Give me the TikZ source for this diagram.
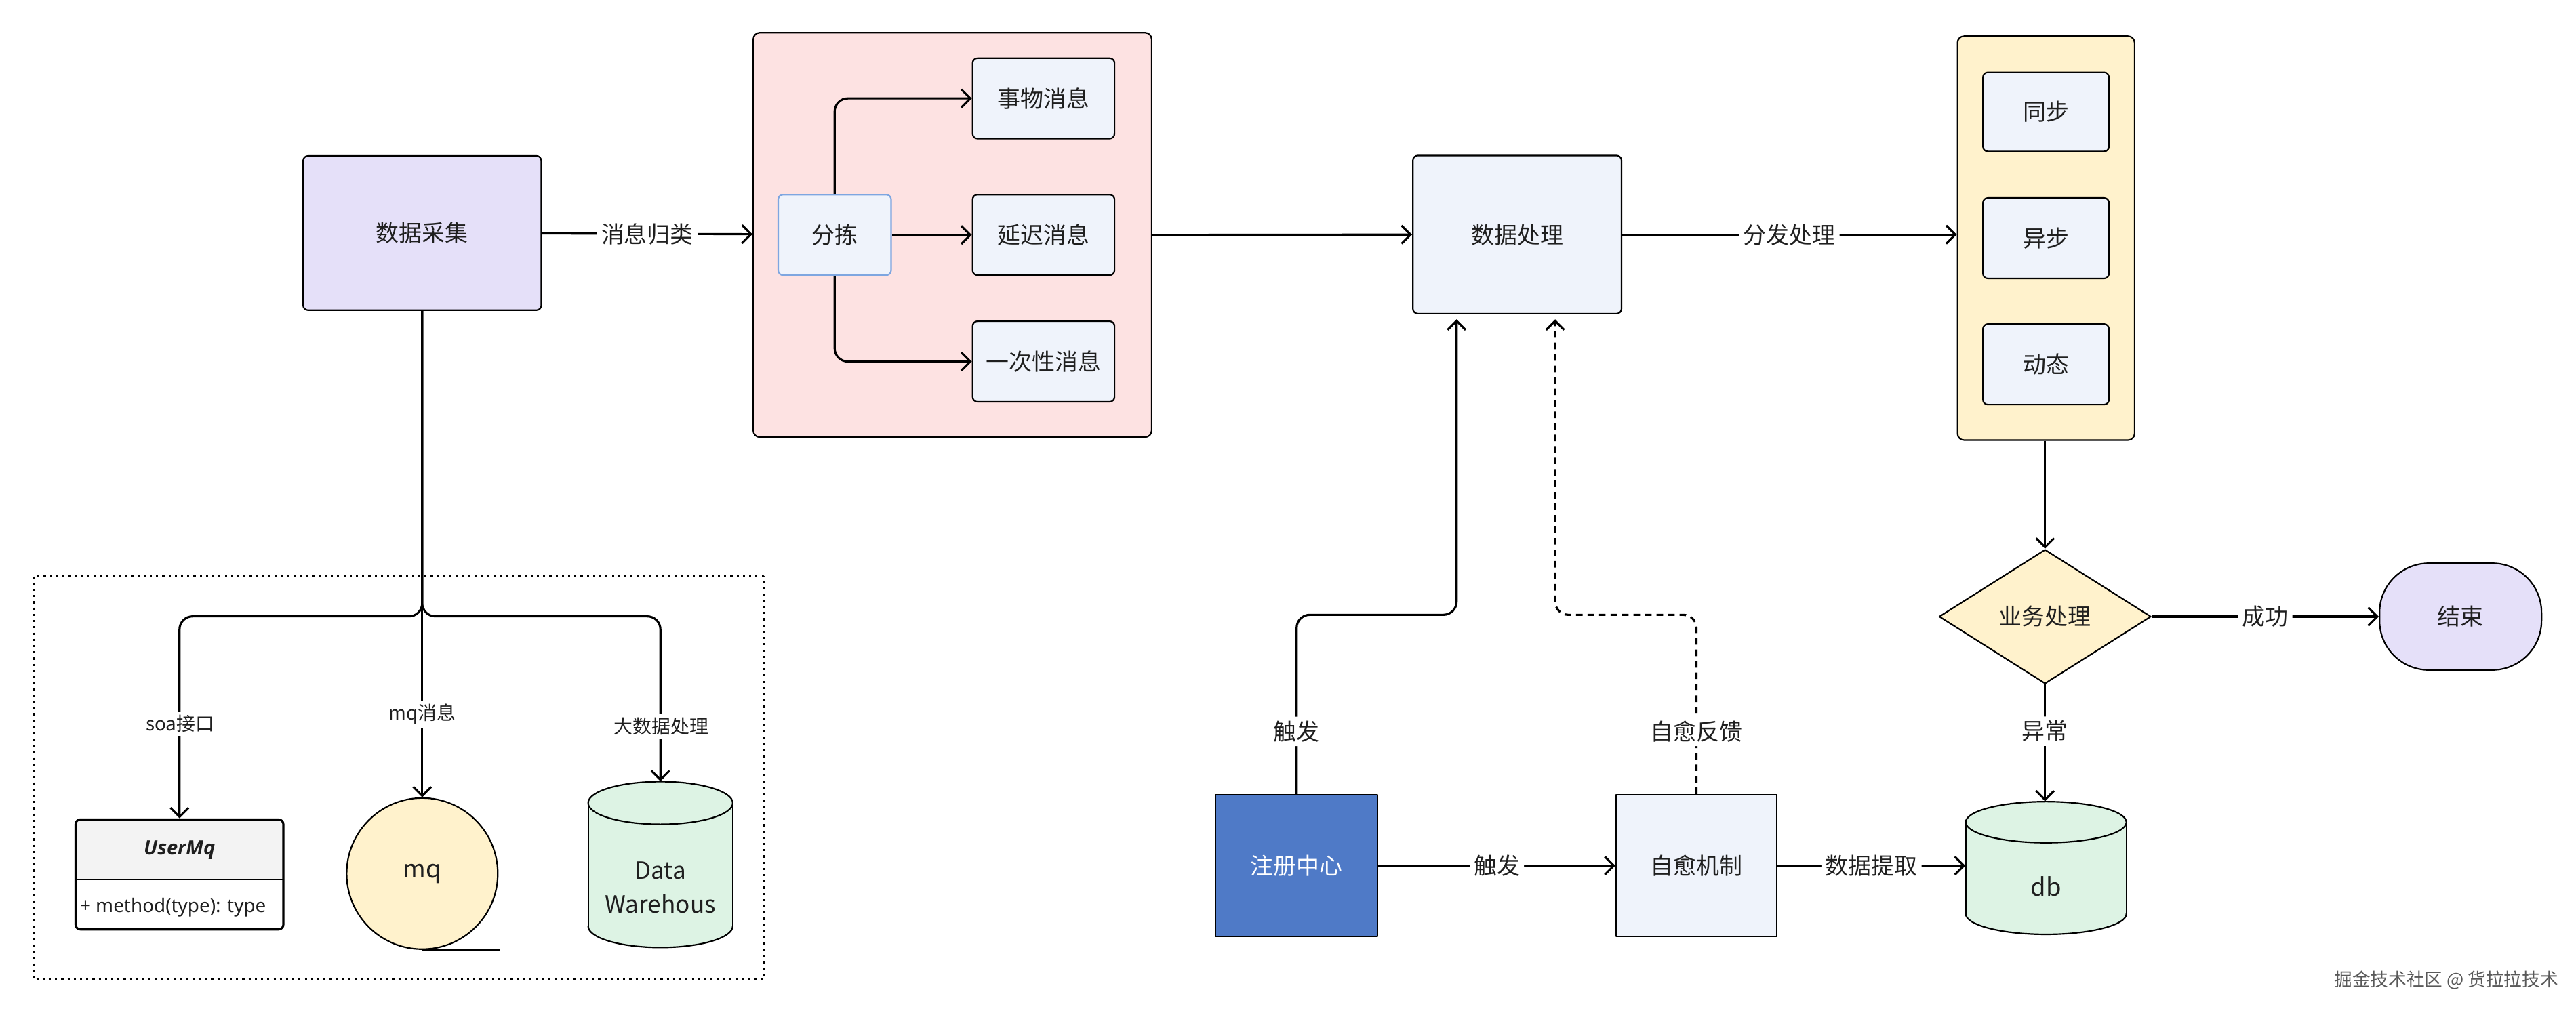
\documentclass[tikz,border=0pt]{standalone}
\usepackage{fontspec}
\setmainfont{Noto Sans CJK SC}
\newfontfamily\latinf{Noto Sans}
\newfontfamily\umfont{Open Sans}
\usetikzlibrary{arrows.meta,shapes.geometric}
\definecolor{lav}{HTML}{E5E0F9}
\definecolor{pinkc}{HTML}{FDE2E2}
\definecolor{bgb}{HTML}{EFF3FB}
\definecolor{fjb}{HTML}{7EA6E0}
\definecolor{yel}{HTML}{FFF2CC}
\definecolor{grn}{HTML}{DDF3E4}
\definecolor{regb}{HTML}{4F7AC7}
\definecolor{hdr}{HTML}{F3F3F3}
\definecolor{txt}{HTML}{1F1F1F}
\newcommand\fsz[1]{\fontsize{#1}{#1}\selectfont}
\begin{document}
\begin{tikzpicture}[x=1pt,y=-1pt,
  line join=round,
  box/.style={draw=black, line width=0.9pt, rounded corners=3pt, fill=bgb, inner sep=0pt, font=\fsz{14}, text=txt},
  sqbox/.style={draw=black, line width=0.9pt, inner sep=0pt, font=\fsz{14}},
  conn/.style={line width=1.3pt, -{Straight Barb[length=5.5pt,width=11pt]}, rounded corners=8pt},
  lbl/.style={fill=white, inner sep=2.5pt, font=\fsz{14}, text=txt},
  slbl/.style={fill=white, inner sep=2pt, font=\fsz{11.5}, text=txt},
  cyl/.style={line width=0.9pt}
]
\fill[white] (0,0) rectangle (1568,618.1);
\useasboundingbox (0,0) rectangle (1568,618.1);

% ---------- left part ----------
\node[box, fill=lav, minimum width=145pt, minimum height=94pt] (caiji) at (257,141.9) {数据采集};

\node[draw=black, line width=0.9pt, rounded corners=4pt, fill=pinkc, minimum width=242.5pt, minimum height=246.3pt] (grp1) at (579.75,143.05) {};
\node[box, draw=fjb, minimum width=68.7pt, minimum height=49.1pt] (fj) at (508.05,143.05) {分拣};
\node[box, minimum width=86.4pt, minimum height=49pt] (swxx) at (635.2,59.9) {事物消息};
\node[box, minimum width=86.4pt, minimum height=49.1pt] (ycxx) at (635.2,143.05) {延迟消息};
\node[box, minimum width=86.4pt, minimum height=49.1pt] (yccx) at (635.2,220.15) {一次性消息};

\draw[conn] (caiji) -- node[lbl] (lgl) {消息归类} (grp1);
\draw[conn] (fj.north) |- (swxx.west);
\draw[conn] (fj) -- (ycxx);
\draw[conn] (fj.south) |- (yccx.west);

% dotted group
\draw[line width=1.2pt, dash pattern=on 1.3pt off 2.5pt] (20.5,351) rectangle (464.7,596.4);

% UserMq class
\begin{scope}
  \clip[rounded corners=3pt] (46,499) rectangle (172.5,566);
  \fill[hdr] (46,499) rectangle (172.5,535.5);
\end{scope}
\draw[line width=0.9pt] (46,535.5) -- (172.5,535.5);
\node[draw=black, line width=1.3pt, rounded corners=3pt, minimum width=126.5pt, minimum height=67pt, inner sep=0pt] (um) at (109.25,532.5) {};
\node[font=\umfont\bfseries\itshape\fsz{12}, text=txt] (umt) at (109.25,517.5) {UserMq};
\node[anchor=west, inner sep=0pt, font=\latinf\fsz{11.5}, text=txt] (umm) at (48.5,552.5) {+ method(type): type};

% mq
\node[circle, draw=black, line width=0.9pt, fill=yel, minimum size=92pt, inner sep=0pt, font=\fsz{15}, text=txt] (mqc) at (257,532) {mq};
\draw[line width=1.3pt] (mqc.south) -- ++(47,0);

% Data Warehouse cylinder
\fill[grn] (358,489) rectangle (446,564);
\fill[grn] (402,564) ellipse [x radius=44pt, y radius=13pt];
\draw[cyl] (358,489) -- (358,564) (446,489) -- (446,564);
\begin{scope}
  \clip (350,564) rectangle (454,585);
  \draw[cyl] (402,564) ellipse [x radius=44pt, y radius=13pt];
\end{scope}
\draw[cyl, fill=grn] (402,489) ellipse [x radius=44pt, y radius=13pt];
\node[minimum width=88pt, minimum height=101pt, inner sep=0pt] (dw) at (402,526.5) {};
\node[align=center, font=\fontsize{14.5}{21}\selectfont, text=txt] (dwt) at (402,540.5) {Data\\Warehous};

% branches
\draw[conn] (caiji.south) -- ++(0,186) -| (um.north);
\draw[conn] (caiji.south) -- (mqc.north);
\draw[conn] (caiji.south) -- ++(0,186) -| (dw.north);
\node[slbl] (lsoa) at (109.6,440.8) {soa接口};
\node[slbl] (lmq) at (257,435) {mq消息};
\node[slbl] (lbig) at (402.5,442.4) {大数据处理};

% ---------- middle ----------
\node[box, minimum width=127pt, minimum height=96.3pt] (proc) at (923.5,142.85) {数据处理};
\draw[conn] (grp1.east) -- (proc.west);

\node[sqbox, fill=regb, text=white, minimum width=98.5pt, minimum height=86.3pt] (reg) at (789.25,527.15) {注册中心};
\node[sqbox, fill=bgb, text=txt, minimum width=97.8pt, minimum height=86.3pt] (heal) at (1032.6,527.15) {自愈机制};

\draw[conn] (reg) -- node[lbl] (ltr2) {触发} (heal);
\draw[conn] (reg.north) -- node[lbl, pos=0.35] (ltr1) {触发} ++(0,-109.15) -| ([xshift=-36.9pt, yshift=-3pt]proc.south);
\draw[conn, dash pattern=on 4pt off 3pt] (heal.north) -- node[lbl, pos=0.35] (lzy) {自愈反馈} ++(0,-109.15) -| ([xshift=23.1pt, yshift=-3pt]proc.south);

% ---------- right ----------
\node[draw=black, line width=0.9pt, rounded corners=4pt, fill=yel, minimum width=107.8pt, minimum height=246pt] (grp2) at (1245.4,145) {};
\node[box, minimum width=76.7pt, minimum height=48.2pt] (tb) at (1245.35,68.1) {同步};
\node[box, minimum width=76.7pt, minimum height=49.1pt] (yb) at (1245.35,145.05) {异步};
\node[box, minimum width=76.7pt, minimum height=49.1pt] (dt) at (1245.35,221.85) {动态};

\draw[conn] (proc.east) -- node[lbl] (lff) {分发处理} (proc.east -| grp2.west);

\node[diamond, draw=black, line width=0.9pt, fill=yel, minimum width=129pt, minimum height=81.7pt, inner sep=0pt, font=\fsz{14}, text=txt] (biz) at (1244.8,375.5) {业务处理};
\node[draw=black, line width=0.9pt, rounded corners=30pt, fill=lav, minimum width=98.6pt, minimum height=65pt, inner sep=0pt, font=\fsz{14}, text=txt] (end) at (1497.7,375.5) {结束};

\draw[conn] (grp2.south -| biz.north) -- (biz.north);
\draw[conn] (biz) -- node[lbl] (lcg) {成功} (end);

% db cylinder
\fill[grn] (1196.5,500.7) rectangle (1294.3,556.5);
\fill[grn] (1245.4,556.5) ellipse [x radius=48.9pt, y radius=12.5pt];
\draw[cyl] (1196.5,500.7) -- (1196.5,556.5) (1294.3,500.7) -- (1294.3,556.5);
\begin{scope}
  \clip (1190,556.5) rectangle (1300,575);
  \draw[cyl] (1245.4,556.5) ellipse [x radius=48.9pt, y radius=12.5pt];
\end{scope}
\draw[cyl, fill=grn] (1245.4,500.7) ellipse [x radius=48.9pt, y radius=12.5pt];
\node[minimum width=97.8pt, minimum height=80.8pt, inner sep=0pt] (db) at (1245.4,528.6) {};
\node[font=\fsz{15}, text=txt] (dbt) at (1245.4,540) {db};

\draw[conn] (biz.south) -- node[lbl, pos=0.4] (lyc) {异常} (biz.south |- db.north);
\draw[conn] (heal.east) -- node[lbl] (lsj) {数据提取} (heal.east -| db.west);

% footer
\node[font=\fsz{11}, text=black!65] (footer) at (1489,597) {掘金技术社区 @ 货拉拉技术};
\end{tikzpicture}
\end{document}
